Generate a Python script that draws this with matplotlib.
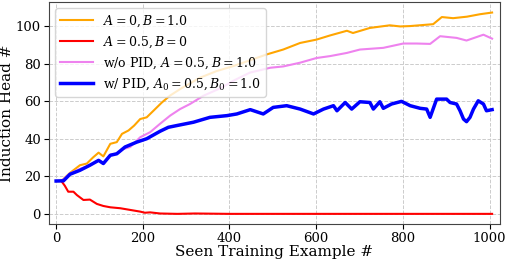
import numpy as np
import matplotlib
matplotlib.use("Agg")
import matplotlib.pyplot as plt

# ---------------------------------------------------------------------------
# Data
# ---------------------------------------------------------------------------
x_orange = [0, 12, 32, 55, 71, 85, 98, 109, 125, 140, 152, 167, 180, 194, 209,
            225, 244, 263, 290, 332, 370, 409, 450, 486, 524, 563, 601, 632,
            671, 685, 724, 770, 794, 817, 870, 890, 916, 948, 978, 1006]
y_orange = [17.5, 17.5, 21.8, 25.9, 26.8, 30.0, 32.6, 30.6, 37.3, 38.2, 42.6,
            44.4, 47.0, 50.5, 51.4, 55.0, 59.3, 63.0, 67.0, 72.5, 76.0, 78.7,
            82.0, 84.9, 87.5, 91.0, 92.8, 95.0, 97.5, 96.3, 99.0, 100.4, 99.8,
            100.0, 101.0, 104.8, 104.2, 105.0, 106.3, 107.2]

x_red = [0, 12, 20, 28, 40, 48, 63, 78, 94, 109, 125, 148, 171, 194, 205, 217,
         240, 280, 320, 400, 600, 800, 1006]
y_red = [17.5, 17.5, 15.0, 11.8, 11.8, 10.0, 7.4, 7.6, 5.3, 4.2, 3.5, 3.0, 2.1,
         1.2, 0.6, 0.8, 0.2, 0.0, 0.2, 0.0, 0.0, 0.0, 0.0]

x_violet = [0, 12, 32, 55, 75, 98, 109, 125, 140, 155, 171, 194, 217, 240, 263,
            286, 309, 340, 380, 410, 447, 494, 524, 563, 601, 632, 671, 701,
            755, 801, 832, 863, 886, 924, 947, 986, 1006]
y_violet = [17.5, 17.5, 21.5, 24.0, 25.5, 28.5, 27.0, 31.5, 32.0, 34.5, 35.6,
            40.8, 43.5, 48.0, 52.3, 55.8, 58.5, 62.9, 67.0, 71.0, 75.2, 77.8,
            78.5, 80.5, 83.0, 84.0, 85.7, 87.5, 88.4, 90.7, 90.7, 90.5, 94.6,
            93.7, 92.3, 95.4, 93.3]

x_blue = [0, 17, 32, 55, 78, 98, 109, 125, 140, 159, 186, 209, 240, 259, 278,
          317, 355, 394, 417, 448, 478, 501, 532, 563, 594, 617, 640, 648, 667,
          682, 701, 724, 732, 747, 755, 774, 797, 817, 840, 855, 863, 878, 901,
          909, 924, 932, 940, 947, 955, 963, 974, 986, 993, 1006]
y_blue = [17.5, 17.6, 21.1, 23.2, 25.9, 28.5, 26.8, 31.2, 32.0, 35.6, 38.2,
          40.0, 44.0, 46.1, 47.0, 48.8, 51.4, 52.3, 53.2, 55.5, 53.2, 56.7,
          57.6, 55.8, 53.2, 55.8, 57.6, 54.9, 59.3, 55.8, 59.7, 59.3, 55.8,
          59.7, 56.2, 58.5, 59.9, 57.6, 56.2, 55.8, 51.4, 61.1, 61.1, 59.3,
          58.5, 54.9, 50.5, 49.1, 51.4, 55.8, 60.2, 58.5, 54.9, 55.5]

labels = [r"$A=0, B=1.0$",
          r"$A=0.5, B=0$",
          r"w/o PID, $A=0.5, B=1.0$",
          r"w/ PID, $A_0=0.5, B_0=1.0$"]

plt.rcParams["font.family"] = "DejaVu Serif"
plt.rcParams["mathtext.fontset"] = "dejavuserif"

fig = plt.figure(figsize=(5.07, 2.62), dpi=100)
ax = fig.add_axes([0.097, 0.145, 0.889, 0.848])

ax.plot(x_orange, y_orange, color="orange", linewidth=1.5, label=labels[0])
ax.plot(x_red, y_red, color="red", linewidth=1.5, label=labels[1])
ax.plot(x_violet, y_violet, color="violet", linewidth=1.5, label=labels[2])
ax.plot(x_blue, y_blue, color="blue", linewidth=2.5, label=labels[3])

ax.set_xlim(-16, 1024)
ax.set_ylim(-5.4, 112.9)
ax.set_xticks([0, 200, 400, 600, 800, 1000])
ax.set_yticks([0, 20, 40, 60, 80, 100])
ax.tick_params(labelsize=9.5, pad=2.5)
ax.grid(True, linestyle="--", color="#cccccc", linewidth=0.7)
for s in ax.spines.values():
    s.set_color("#444444")

ax.set_xlabel("Seen Training Example #", fontsize=11, labelpad=0)
ax.set_ylabel("Induction Head #", fontsize=11, labelpad=1)
ax.legend(loc="upper left", fontsize=9, handlelength=2.6,
          borderaxespad=0.5, labelspacing=0.45)

fig.savefig("out.png", dpi=100)
